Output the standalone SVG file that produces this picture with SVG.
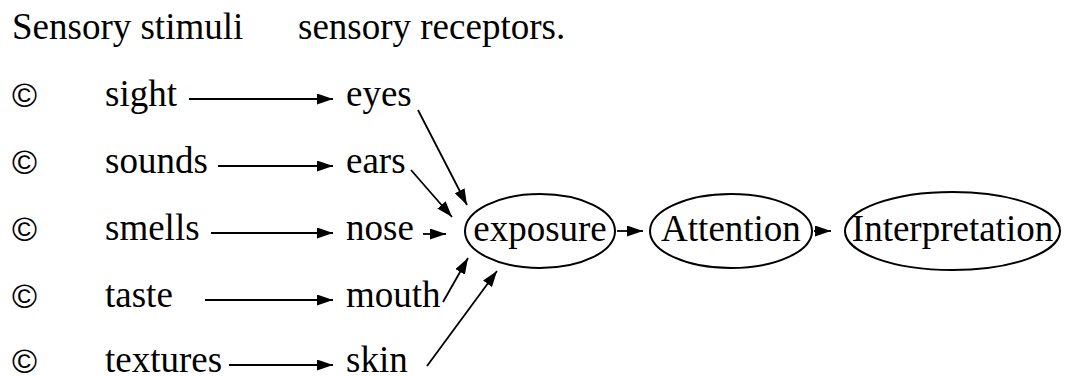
<svg xmlns="http://www.w3.org/2000/svg" width="1066" height="376" viewBox="0 0 1066 376">
  <style>
    .t { font-family: "Liberation Serif", "Times New Roman", serif; font-size: 37px; fill: #000; }
    .c { font-family: "Liberation Sans", Arial, sans-serif; font-size: 34px; fill: #000; }
    .ln { stroke: #000; stroke-width: 1.8; fill: none; marker-end: url(#ah); }
    .el { stroke: #000; stroke-width: 2; fill: #fff; }
  </style>
  <defs>
    <marker id="ah" markerWidth="16" markerHeight="11" refX="16" refY="5.5" orient="auto" markerUnits="userSpaceOnUse">
      <path d="M0,0 L16,5.5 L0,11 z" fill="#000"/>
    </marker>
  </defs>
  <rect width="1066" height="376" fill="#fff"/>

  <g id="headers">
    <text class="t" x="12" y="39">Sensory stimuli</text>
    <text class="t" x="298" y="39">sensory receptors.</text>
  </g>

  <g id="bullets">
    <text class="c" x="12" y="107">©</text>
    <text class="c" x="12" y="174">©</text>
    <text class="c" x="12" y="241">©</text>
    <text class="c" x="12" y="308">©</text>
    <text class="c" x="12" y="373">©</text>
  </g>

  <g id="stimuli">
    <text class="t" x="105" y="106">sight</text>
    <text class="t" x="105" y="173">sounds</text>
    <text class="t" x="105" y="240">smells</text>
    <text class="t" x="105" y="307">taste</text>
    <text class="t" x="105" y="372">textures</text>
  </g>

  <g id="receptors">
    <text class="t" x="346" y="106">eyes</text>
    <text class="t" x="346" y="173">ears</text>
    <text class="t" x="346" y="240">nose</text>
    <text class="t" x="346" y="307">mouth</text>
    <text class="t" x="346" y="372">skin</text>
  </g>

  <g id="exposure">
    <ellipse class="el" cx="540" cy="231" rx="75" ry="37"/>
    <text class="t" x="540" y="241" text-anchor="middle">exposure</text>
  </g>
  <g id="attention">
    <ellipse class="el" cx="731" cy="231" rx="81" ry="37"/>
    <text class="t" x="731" y="241" text-anchor="middle">Attention</text>
  </g>
  <g id="interpretation">
    <ellipse class="el" cx="952.5" cy="231" rx="107.5" ry="39"/>
    <text class="t" x="952.5" y="241" text-anchor="middle">Interpretation</text>
  </g>

  <g id="connectors">
    <line class="ln" x1="189" y1="99" x2="333" y2="99"/>
    <line class="ln" x1="218" y1="166" x2="333" y2="166"/>
    <line class="ln" x1="211" y1="233" x2="333" y2="233"/>
    <line class="ln" x1="205" y1="300" x2="333" y2="300"/>
    <line class="ln" x1="229" y1="365" x2="333" y2="365"/>

    <line class="ln" x1="418" y1="110" x2="467" y2="205"/>
    <line class="ln" x1="411" y1="170" x2="452" y2="217"/>
    <line class="ln" x1="423" y1="234" x2="446" y2="234"/>
    <line class="ln" x1="443" y1="302" x2="468" y2="258"/>
    <line class="ln" x1="427" y1="366" x2="497" y2="271"/>

    <line class="ln" x1="617" y1="231" x2="643" y2="231"/>
    <line class="ln" x1="814" y1="231" x2="831" y2="231"/>
  </g>
</svg>
